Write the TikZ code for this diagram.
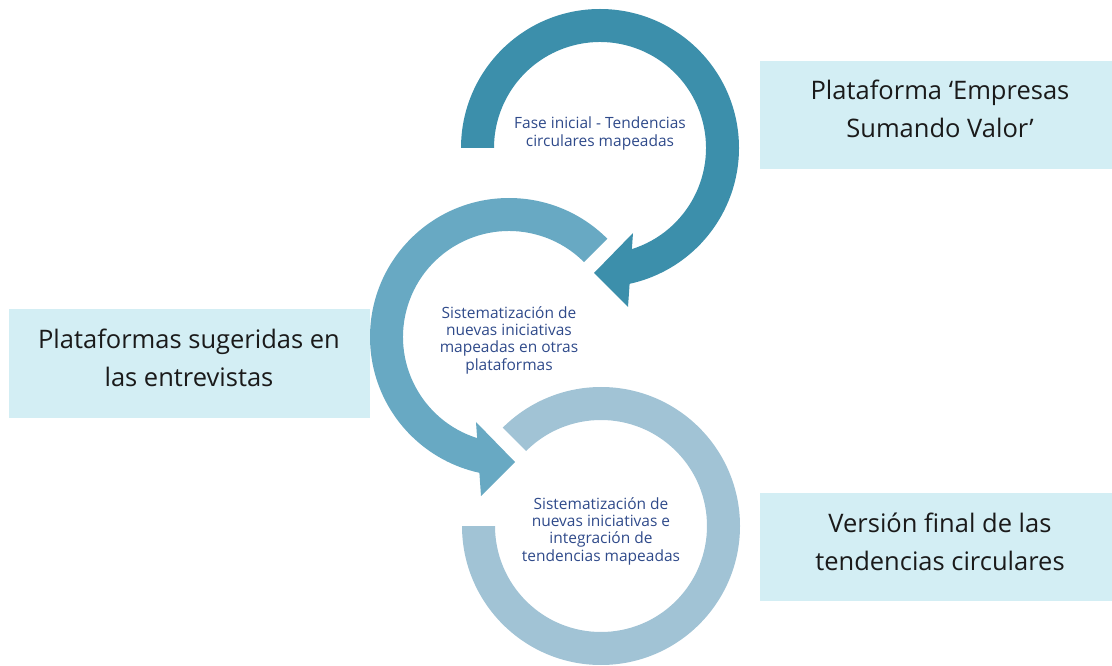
\documentclass[tikz,border=0pt]{standalone}
\usepackage{fontspec}
\setmainfont{Open Sans}
\definecolor{cone}{RGB}{60,143,171}
\definecolor{ctwo}{RGB}{104,169,195}
\definecolor{cthree}{RGB}{161,195,213}
\definecolor{boxfill}{RGB}{211,238,244}
\definecolor{ctext}{RGB}{47,74,138}
\definecolor{btext}{RGB}{26,26,26}
\begin{document}
\begin{tikzpicture}[x=1pt,y=1pt,
  sidebox/.style={fill=boxfill,draw=none,rectangle,minimum width=352pt,minimum height=108pt,inner sep=0pt},
  boxtext/.style={text=btext,align=center,font=\fontsize{25.5}{38}\selectfont,inner sep=0pt},
  ringtext/.style={text=ctext,align=center,font=\fontsize{15.5}{17.3}\selectfont,inner sep=0pt}]
\useasboundingbox (0,0) rectangle (1112,665);
% top arrow
\begin{scope}[shift={(600,517)}]
\fill[cone] (180:139) arc[start angle=180,end angle=-77.7,radius=139] -- (28,-159) -- (-6,-125) -- (33,-85) -- (-72.5:106) arc[start angle=-72.5,end angle=180,radius=106] -- cycle;
\end{scope}
% middle arrow
\begin{scope}[shift={(509,328)}]
\fill[ctwo] (45:139) arc[start angle=45,end angle=257.7,radius=139] -- (-28,-159) -- (6,-125) -- (-33,-85) -- (252.5:106) arc[start angle=252.5,end angle=45,radius=106] -- cycle;
\end{scope}
% bottom ring
\begin{scope}[shift={(601,139)}]
\fill[cthree] (180:139) arc[start angle=180,end angle=495,radius=139] -- (135:106) arc[start angle=495,end angle=180,radius=106] -- cycle;
\end{scope}
% circle texts
\node[ringtext] (t1) at (600,531.5) {Fase inicial - Tendencias\\circulares mapeadas};
\node[ringtext] (t2) at (509,325) {Sistematización de\\nuevas iniciativas\\mapeadas en otras\\plataformas};
\node[ringtext] (t3) at (601,134) {Sistematización de\\nuevas iniciativas e\\integración de\\tendencias mapeadas};
% side boxes
\node[sidebox] (b1) at (936,550) {};
\node[boxtext] (l1) at (940,556) {Plataforma ‘Empresas\\Sumando Valor’};
\node[sidebox,minimum width=361pt,minimum height=109pt] (b2) at (189.5,301.5) {};
\node[boxtext] (l2) at (189,307) {Plataformas sugeridas en\\las entrevistas};
\node[sidebox] (b3) at (936,118) {};
\node[boxtext] (l3) at (940,123) {Versión final de las\\tendencias circulares};
\end{tikzpicture}
\end{document}
